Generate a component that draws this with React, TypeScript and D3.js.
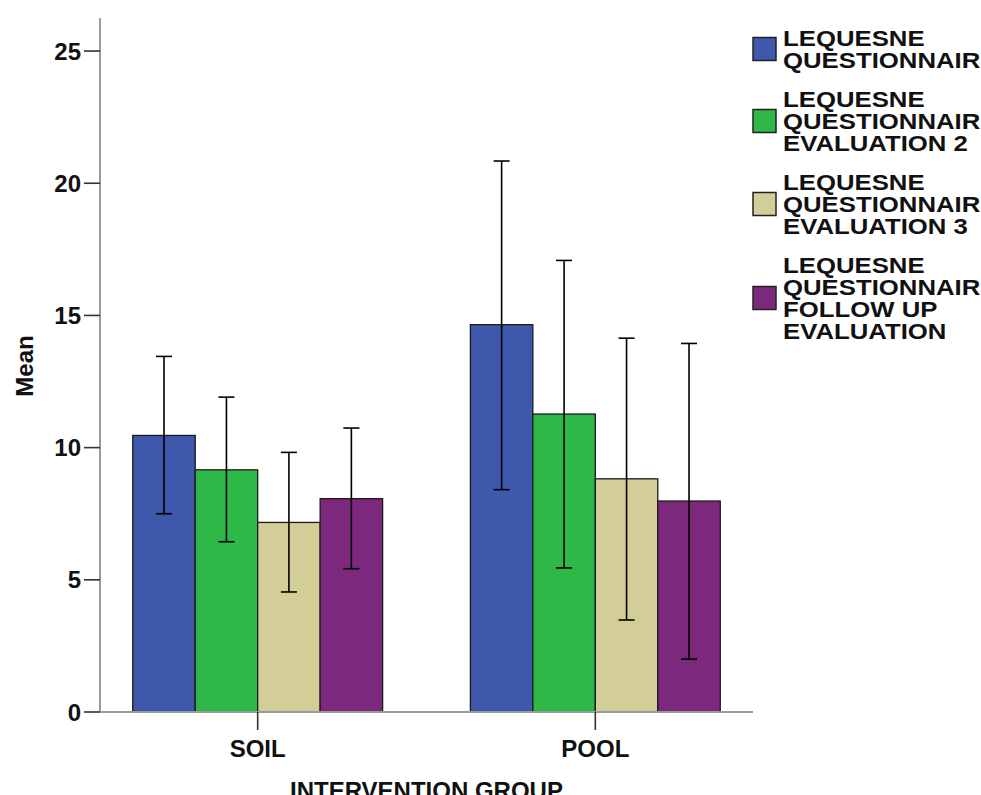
import React from 'react';
import * as d3 from 'd3';

const groups = ['SOIL', 'POOL'];
const seriesNames = [
  ['LEQUESNE', 'QUESTIONNAIR'],
  ['LEQUESNE', 'QUESTIONNAIR', 'EVALUATION 2'],
  ['LEQUESNE', 'QUESTIONNAIR', 'EVALUATION 3'],
  ['LEQUESNE', 'QUESTIONNAIR', 'FOLLOW UP', 'EVALUATION'],
];
const colors = ['#3E58AC', '#2EB848', '#D3CE97', '#7C287D'];

// means per group, one value per series
const soilMean = [10.46, 9.16, 7.17, 8.07];
const poolMean = [14.65, 11.27, 8.82, 7.98];
// 95% CI bounds
const soilLow = [7.5, 6.44, 4.54, 5.42];
const soilHigh = [13.45, 11.91, 9.82, 10.74];
const poolLow = [8.41, 5.45, 3.48, 2.0];
const poolHigh = [20.84, 17.08, 14.14, 13.94];

const yTicks = [0, 5, 10, 15, 20, 25];

const W = 981;
const H = 795;
const FONT = '"Liberation Sans", Arial, sans-serif';

export default function App() {
  const left = 100;
  const right = 753;
  const top = 18;
  const bottom = 712;

  const x = d3.scaleBand<string>().domain(groups).range([left, right]).paddingInner(0.26).paddingOuter(0.097);
  const sIdx = d3.range(seriesNames.length).map(String);
  const xs = d3.scaleBand<string>().domain(sIdx).range([0, x.bandwidth()]).padding(0);
  const y = d3.scaleLinear().domain([0, 26.25]).range([bottom, top]);

  const rows = [
    { g: 'SOIL', mean: soilMean, lo: soilLow, hi: soilHigh },
    { g: 'POOL', mean: poolMean, lo: poolLow, hi: poolHigh },
  ];

  // legend layout
  const lineStep = 22;
  const entryGap = 39;
  const capH = 16;
  let cursor = 30;
  const legendEntries = seriesNames.map((lines, i) => {
    const t = cursor;
    cursor += (lines.length - 1) * lineStep + entryGap;
    const blockH = (lines.length - 1) * lineStep + capH;
    return { lines, i, t, mid: t + blockH / 2 };
  });

  const cap = 8;

  return (
    <svg width={W} height={H} style={{ position: 'absolute', left: 0, top: 0, background: '#fff' }} fontFamily={FONT} fontWeight="bold">
      {/* bars */}
      {rows.map((r) =>
        r.mean.map((m, i) => {
          const x0 = (x(r.g) as number) + (xs(String(i)) as number);
          return (
            <rect key={r.g + i} x={x0} y={y(m)} width={xs.bandwidth()} height={y(0) - y(m)}
              fill={colors[i]} stroke="#1a1a1a" strokeWidth={1.3} />
          );
        })
      )}
      {/* error bars */}
      {rows.map((r) =>
        r.mean.map((_, i) => {
          const cx = (x(r.g) as number) + (xs(String(i)) as number) + xs.bandwidth() / 2;
          return (
            <g key={'e' + r.g + i} stroke="#000" strokeWidth={1.6}>
              <line x1={cx} x2={cx} y1={y(r.lo[i])} y2={y(r.hi[i])} />
              <line x1={cx - cap} x2={cx + cap} y1={y(r.hi[i])} y2={y(r.hi[i])} />
              <line x1={cx - cap} x2={cx + cap} y1={y(r.lo[i])} y2={y(r.lo[i])} />
            </g>
          );
        })
      )}
      {/* axes */}
      <line x1={left} x2={left} y1={top} y2={bottom} stroke="#9a9a9a" strokeWidth={2} />
      <line x1={left} x2={right} y1={bottom} y2={bottom} stroke="#9a9a9a" strokeWidth={2} />
      {yTicks.map((t) => (
        <g key={'y' + t}>
          <line x1={left - 16} x2={left} y1={y(t)} y2={y(t)} stroke="#333" strokeWidth={1.6} />
          <text x={81} y={y(t)} dy="0.36em" textAnchor="end" fontSize={24} fill="#111">{t}</text>
        </g>
      ))}
      {groups.map((g) => {
        const cx = (x(g) as number) + x.bandwidth() / 2;
        return (
          <g key={'x' + g}>
            <line x1={cx} x2={cx} y1={bottom} y2={bottom + 18} stroke="#333" strokeWidth={1.6} />
            <text x={cx} y={757} textAnchor="middle" fontSize={24} fill="#111">{g}</text>
          </g>
        );
      })}
      <text x={(left + right) / 2} y={799} textAnchor="middle" fontSize={24} fill="#111">INTERVENTION GROUP</text>
      <text transform={`translate(33,366) rotate(-90)`} textAnchor="middle" fontSize={24} fill="#111">Mean</text>
      {/* legend */}
      {legendEntries.map((e) => (
        <g key={'l' + e.i}>
          <rect x={753} y={e.mid - 11.5} width={23} height={23} fill={colors[e.i]} stroke="#222" strokeWidth={1.5} />
          {e.lines.map((ln, k) => (
            <text key={k} transform={`translate(783,${e.t + capH + k * lineStep}) scale(1.17,1)`} fontSize={22} fill="#111">{ln}</text>
          ))}
        </g>
      ))}
    </svg>
  );
}
